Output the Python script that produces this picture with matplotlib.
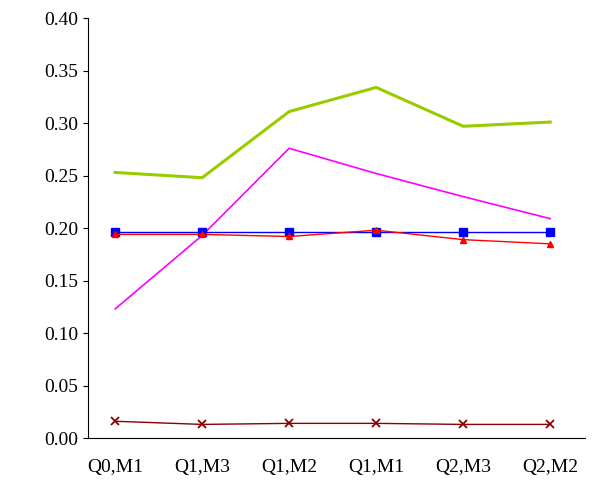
import matplotlib.pyplot as plt
import numpy as np

categories = ["Q0,M1", "Q1,M3", "Q1,M2", "Q1,M1", "Q2,M3", "Q2,M2"]
green = [0.253, 0.248, 0.311, 0.334, 0.297, 0.301]
magenta = [0.123, 0.193, 0.276, 0.252, 0.230, 0.209]
blue = [0.196, 0.196, 0.196, 0.196, 0.196, 0.196]
red = [0.194, 0.194, 0.192, 0.198, 0.189, 0.185]
darkred = [0.016, 0.013, 0.014, 0.014, 0.013, 0.013]

plt.rcParams["font.family"] = ["Liberation Serif", "DejaVu Serif"]

fig, ax = plt.subplots(figsize=(6, 4.9), dpi=100)
x = np.arange(len(categories))

ax.plot(x, green, color="#99cc00", linewidth=2.2)
ax.plot(x, magenta, color="#ff00ff", linewidth=1.2)
ax.plot(x, blue, color="#0000ff", linewidth=1.0, marker="s", markersize=6)
ax.plot(x, red, color="#ff0000", linewidth=1.0, marker="^", markersize=5)
ax.plot(x, darkred, color="#8b0000", linewidth=1.0, marker="x", markersize=6, markeredgewidth=1.3)

ax.set_xlim(-0.31, 5.4)
ax.set_ylim(0, 0.40)
ax.set_yticks(np.arange(0, 0.401, 0.05))
ax.set_yticklabels([f"{v:.2f}" for v in np.arange(0, 0.401, 0.05)])
ax.set_xticks(x)
ax.set_xticklabels(categories)
ax.tick_params(axis="both", labelsize=14, direction="out")
ax.tick_params(axis="x", length=0, pad=15)
ax.spines["top"].set_visible(False)
ax.spines["right"].set_visible(False)

fig.subplots_adjust(left=0.147, right=0.975, top=0.963, bottom=0.106)
fig.savefig("out.png", dpi=100)
